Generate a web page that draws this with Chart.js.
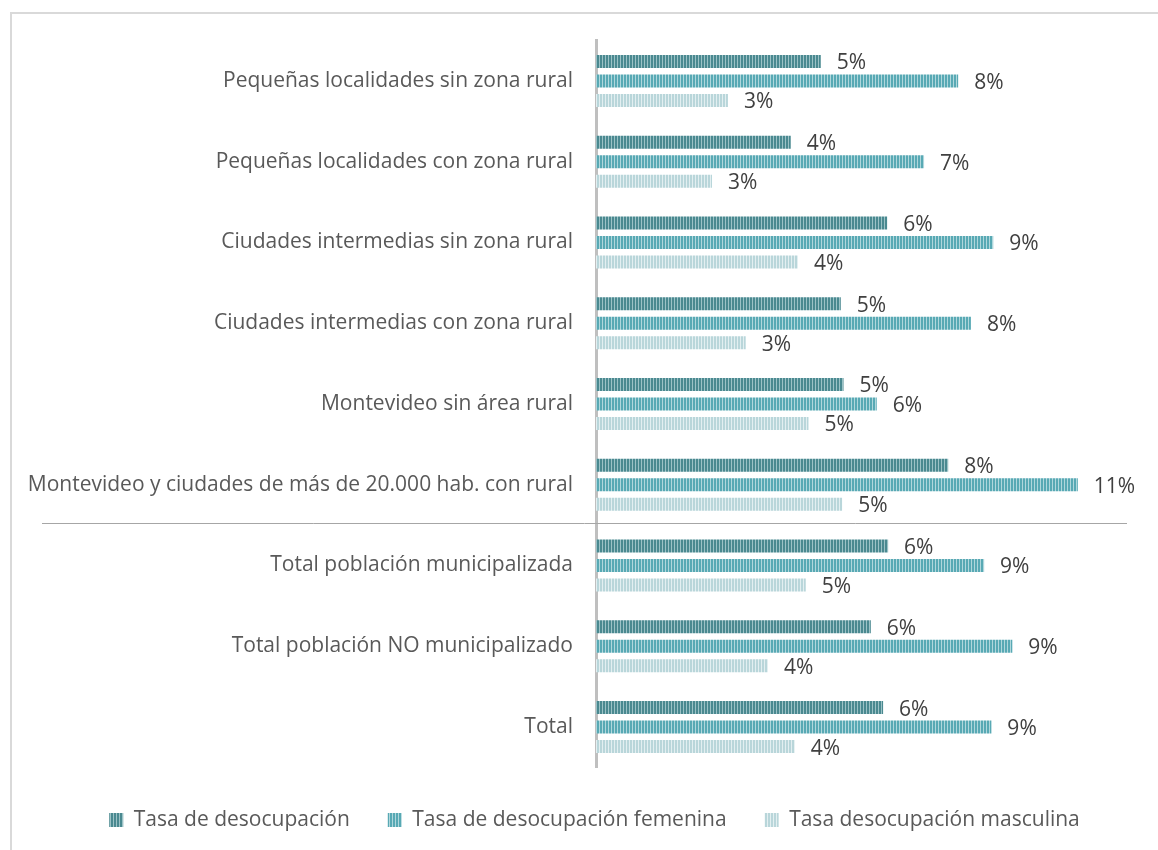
<!DOCTYPE html>
<html>
<head>
<meta charset="utf-8">
<script src="https://cdn.jsdelivr.net/npm/chart.js@4.4.1/dist/chart.umd.min.js"></script>
<style>
  html, body { margin: 0; padding: 0; background: #fff; overflow: hidden; width: 1158px; height: 850px; }
  #frame { position: absolute; left: 10px; top: 12px; width: 1170px; height: 860px;
           border-top: 2px solid #d9d9d9; border-left: 2px solid #d9d9d9; }
  canvas { display: block; }
</style>
</head>
<body>
<div id="frame"><canvas id="c" width="1170" height="857"></canvas></div>
<script>
const categories = [
  "Pequeñas localidades sin zona rural",
  "Pequeñas localidades con zona rural",
  "Ciudades intermedias sin zona rural",
  "Ciudades intermedias con zona rural",
  "Montevideo sin área rural",
  "Montevideo y ciudades de más de 20.000 hab. con rural",
  "Total población municipalizada",
  "Total población NO municipalizado",
  "Total"
];
const seriesNames = ["Tasa de desocupación", "Tasa de desocupación femenina", "Tasa desocupación masculina"];
const tasaTotal     = [4.94, 4.28, 6.40, 5.38, 5.44, 7.74, 6.42, 6.04, 6.31];
const tasaFemenina  = [7.96, 7.21, 8.73, 8.24, 6.17, 10.59, 8.53, 9.15, 8.69];
const tasaMasculina = [2.90, 2.55, 4.44, 3.29, 4.67, 5.41, 4.61, 3.78, 4.37];
const xMax = 12.77;

const FONT = '"Open Sans"';
const FS = 21;

function stripes(dark, light) {
  const p = document.createElement('canvas');
  p.width = 3; p.height = 4;
  const g = p.getContext('2d');
  g.fillStyle = dark; g.fillRect(0, 0, 3, 4);
  g.fillStyle = light; g.fillRect(2, 0, 1, 4);
  return document.getElementById('c').getContext('2d').createPattern(p, 'repeat');
}
const patDark = stripes('#4a8990', '#9cc2c6');
const patFem  = stripes('#58a9b4', '#b0d7dc');
const patMasc = stripes('#b9d6da', '#e3eff1');

const valueLabels = {
  id: 'valueLabels',
  afterDatasetsDraw(chart) {
    const ctx = chart.ctx;
    ctx.save();
    ctx.font = FS + 'px ' + FONT;
    ctx.fillStyle = '#404040';
    ctx.textAlign = 'left';
    ctx.textBaseline = 'middle';
    chart.data.datasets.forEach((ds, i) => {
      chart.getDatasetMeta(i).data.forEach((bar, j) => {
        ctx.fillText(Math.round(ds.data[j]) + '%', bar.x + 16, bar.y + 2);
      });
    });
    ctx.restore();
  }
};

const separator = {
  id: 'separator',
  afterDraw(chart) {
    const y = chart.scales.y;
    const yy = Math.round((y.getPixelForValue(5) + y.getPixelForValue(6)) / 2) - 2 + 0.5;
    const ctx = chart.ctx;
    ctx.save();
    ctx.strokeStyle = '#a6a6a6';
    ctx.lineWidth = 1;
    ctx.beginPath();
    ctx.moveTo(30, yy);
    ctx.lineTo(1115, yy);
    ctx.stroke();
    ctx.restore();
  }
};

new Chart(document.getElementById('c'), {
  type: 'bar',
  data: {
    labels: categories,
    datasets: [
      { label: seriesNames[0], data: tasaTotal, backgroundColor: patDark },
      { label: seriesNames[1], data: tasaFemenina, backgroundColor: patFem },
      { label: seriesNames[2], data: tasaMasculina, backgroundColor: patMasc }
    ]
  },
  options: {
    indexAxis: 'y',
    responsive: false,
    animation: false,
    categoryPercentage: 0.7245,
    barPercentage: 0.667,
    layout: { padding: { top: 26.6, right: 5, left: 0, bottom: 30.6 } },
    scales: {
      x: { display: false, min: 0, max: xMax },
      y: {
        afterFit(s) { s.width = 584; s.paddingTop = 0; s.paddingBottom = 0; },
        grid: { display: false },
        border: { display: true, color: '#bfbfbf', width: 3 },
        ticks: { color: '#595959', font: { family: FONT, size: FS }, padding: 15 }
      }
    },
    plugins: {
      tooltip: { enabled: false },
      legend: {
        position: 'bottom',
        title: { display: true, text: '', font: { size: 4, lineHeight: 1 }, padding: 0 },
        labels: {
          boxWidth: 14, boxHeight: 14, padding: 38,
          color: '#595959',
          font: { family: FONT, size: FS }
        }
      }
    }
  },
  plugins: [valueLabels, separator]
});
</script>
</body>
</html>
